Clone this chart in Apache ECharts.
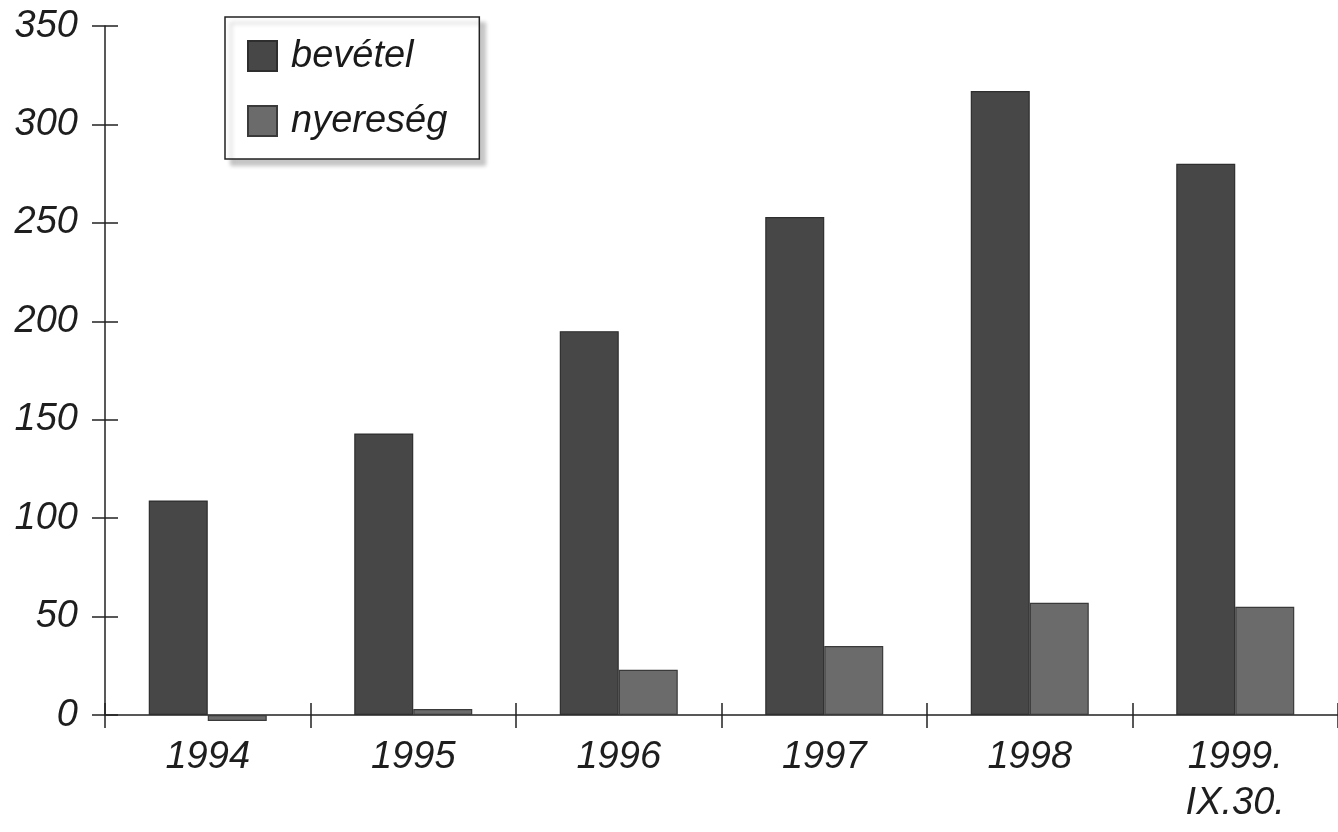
<!DOCTYPE html>
<html>
<head>
<meta charset="utf-8">
<script src="https://cdn.jsdelivr.net/npm/echarts@6/dist/echarts.min.js"></script>
<style>
html,body{margin:0;padding:0;background:#fff;}
#chart{width:1338px;height:832px;}
</style>
</head>
<body>
<div id="chart"></div>
<script>
var categories = ['1994', '1995', '1996', '1997', '1998', '1999.\nIX.30.'];
var bevetel = [109, 143, 195, 253, 317, 280];
var nyereseg = [-3, 3, 23, 35, 57, 55];
var yTicks = { min: 0, max: 350, interval: 50 };

var font = '"Liberation Sans", Arial, sans-serif';
var chart = echarts.init(document.getElementById('chart'));
chart.setOption({
  backgroundColor: '#ffffff',
  animation: false,
  grid: { left: 105, top: 26, width: 1239, height: 689 },
  legend: {
    orient: 'vertical',
    left: 225, top: 17,
    padding: [20, 32, 19, 22],
    itemGap: 27,
    itemWidth: 29, itemHeight: 30,
    icon: 'rect',
    backgroundColor: '#ffffff',
    borderColor: '#222',
    borderWidth: 1.5,
    shadowColor: 'rgba(0,0,0,0.22)',
    shadowOffsetX: 6, shadowOffsetY: 6, shadowBlur: 4,
    textStyle: { fontFamily: font, fontStyle: 'italic', fontSize: 38, color: '#1a1a1a', padding: [0, 0, 0, 9] },
    data: ['bevétel', 'nyereség']
  },
  xAxis: [{
    type: 'category', data: categories, position: 'bottom',
    axisLine: { onZero: false, lineStyle: { color: '#222', width: 1.5 } },
    axisTick: { show: true, length: 13, lineStyle: { color: '#222', width: 1.5 } },
    axisLabel: { fontFamily: font, fontStyle: 'italic', fontSize: 38, color: '#1e1e1e', margin: 19, lineHeight: 46 },
    splitLine: { show: false }
  }, {
    type: 'category', data: categories, position: 'bottom',
    axisLine: { show: false, onZero: false },
    axisTick: { show: true, inside: true, length: 12, lineStyle: { color: '#222', width: 1.5 } },
    axisLabel: { show: false },
    splitLine: { show: false }
  }],
  yAxis: [{
    type: 'value', min: yTicks.min, max: yTicks.max, interval: yTicks.interval,
    axisLine: { show: true, lineStyle: { color: '#222', width: 1.5 } },
    axisTick: { show: true, length: 13, lineStyle: { color: '#222', width: 1.5 } },
    axisLabel: { fontFamily: font, fontStyle: 'italic', fontSize: 38, color: '#1e1e1e', margin: 27 },
    splitLine: { show: false }
  }, {
    type: 'value', position: 'left', min: yTicks.min, max: yTicks.max, interval: yTicks.interval,
    axisLine: { show: false },
    axisTick: { show: true, inside: true, length: 13, lineStyle: { color: '#222', width: 1.5 } },
    axisLabel: { show: false },
    splitLine: { show: false }
  }],
  series: [{
    name: 'bevétel', type: 'bar', data: bevetel, barWidth: 59, barGap: '0%', clip: false,
    itemStyle: { color: '#474747', borderColor: '#2e2e2e', borderWidth: 1.2 }
  }, {
    name: 'nyereség', type: 'bar', data: nyereseg, barWidth: 59, barGap: '0%', clip: false,
    itemStyle: { color: '#6b6b6b', borderColor: '#3a3a3a', borderWidth: 1.2 }
  }]
});
</script>
</body>
</html>
